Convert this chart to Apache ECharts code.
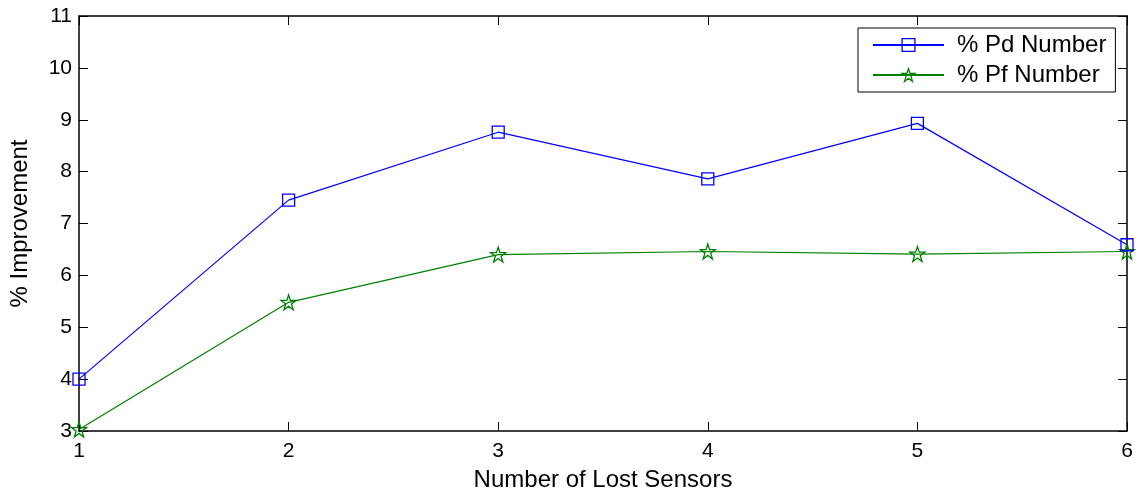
<!DOCTYPE html>
<html>
<head>
<meta charset="utf-8">
<script src="https://cdn.jsdelivr.net/npm/echarts@6/dist/echarts.min.js"></script>
<style>
  html, body { margin: 0; padding: 0; background: #fff; }
  #chart { width: 1141px; height: 498px; }
</style>
</head>
<body>
<div id="chart"></div>
<script>
// Number of lost sensors (x) and percentage improvement per metric
const lostSensors = [1, 2, 3, 4, 5, 6];
const pdImprovement = [4.00, 7.45, 8.76, 7.86, 8.93, 6.59];
const pfImprovement = [3.03, 5.48, 6.40, 6.46, 6.41, 6.46];
const seriesNames = ['% Pd Number', '% Pf Number'];

const FONT = '"Liberation Sans", Arial, sans-serif';
const STAR = 'path://M50,0 L61.8,35.4 L100,35.4 L69.1,57.3 L80.9,95.1 L50,72.4 L19.1,95.1 L30.9,57.3 L0,35.4 L38.2,35.4 Z';
const BLUE = '#0000ff';
const GREEN = '#008000';
const CLEAR = 'rgba(0,0,0,0)';

const pairs = (xs, ys) => xs.map((x, i) => [x, ys[i]]);

const chart = echarts.init(document.getElementById('chart'), null, { renderer: 'canvas' });

const tickStyle = { show: true, inside: true, length: 9, lineStyle: { color: '#000', width: 1 } };
const axisLine = { show: true, onZero: false, lineStyle: { color: '#000', width: 1.5 } };
const tickFont = { fontFamily: FONT, fontSize: 21, color: '#000' };
const nameFont = { fontFamily: FONT, fontSize: 24, color: '#000' };

chart.setOption({
  animation: false,
  backgroundColor: '#fff',
  grid: { left: 78, right: 14, top: 16, bottom: 67, containLabel: false },
  legend: {
    orient: 'vertical',
    left: 858,
    top: 28,
    data: [
      { name: seriesNames[0], itemStyle: { color: CLEAR, borderColor: BLUE, borderWidth: 1.3 } },
      { name: seriesNames[1], itemStyle: { color: CLEAR, borderColor: GREEN, borderWidth: 1.3 } }
    ],
    backgroundColor: '#fff',
    borderColor: '#000',
    borderWidth: 1,
    borderRadius: 0,
    padding: [5, 9, 5, 14],
    itemGap: 6,
    itemWidth: 71,
    itemHeight: 16,
    textStyle: Object.assign({ padding: [0, 0, 0, 8] }, nameFont)
  },
  xAxis: [
    {
      type: 'value', min: 1, max: 6, interval: 1,
      position: 'bottom',
      name: 'Number of Lost Sensors', nameLocation: 'middle', nameGap: 37,
      nameTextStyle: nameFont,
      axisLine: axisLine, axisTick: tickStyle,
      axisLabel: Object.assign({ margin: 10 }, tickFont),
      splitLine: { show: false }
    },
    {
      type: 'value', min: 1, max: 6, interval: 1, position: 'top',
      axisLine: axisLine, axisTick: tickStyle, axisLabel: { show: false }, splitLine: { show: false }
    }
  ],
  yAxis: [
    {
      type: 'value', min: 3, max: 11, interval: 1,
      position: 'left',
      name: '% Improvement', nameLocation: 'middle', nameGap: 47, nameRotate: 90,
      nameTextStyle: nameFont,
      axisLine: axisLine, axisTick: tickStyle,
      axisLabel: Object.assign({ margin: 7 }, tickFont),
      splitLine: { show: false }
    },
    {
      type: 'value', min: 3, max: 11, interval: 1, position: 'right',
      axisLine: axisLine, axisTick: tickStyle, axisLabel: { show: false }, splitLine: { show: false }
    }
  ],
  series: [
    {
      name: seriesNames[0], type: 'line', xAxisIndex: 0, yAxisIndex: 0,
      data: pairs(lostSensors, pdImprovement),
      symbol: 'rect', symbolSize: 12,
      lineStyle: { color: BLUE, width: 1.2 },
      itemStyle: { color: CLEAR, borderColor: BLUE, borderWidth: 1.3 },
      emphasis: { disabled: true },
      z: 3
    },
    {
      name: seriesNames[1], type: 'line', xAxisIndex: 0, yAxisIndex: 0,
      data: pairs(lostSensors, pfImprovement),
      symbol: STAR, symbolSize: 15,
      lineStyle: { color: GREEN, width: 1.2 },
      itemStyle: { color: CLEAR, borderColor: GREEN, borderWidth: 1.3 },
      emphasis: { disabled: true },
      z: 2
    }
  ]
});
</script>
</body>
</html>
